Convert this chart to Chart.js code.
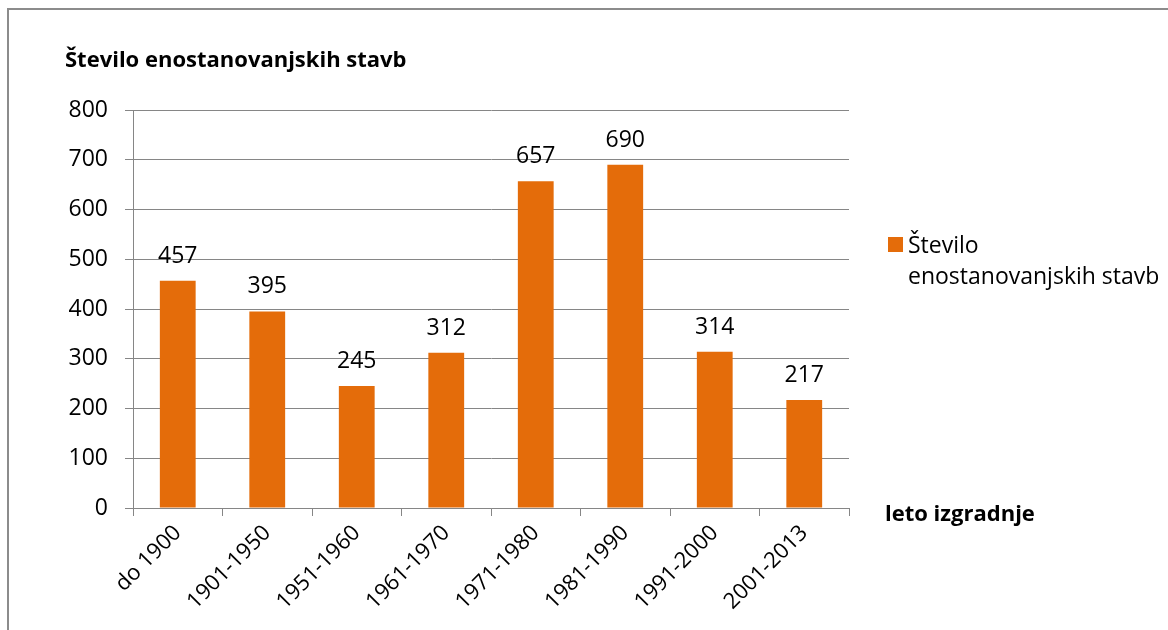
<!DOCTYPE html>
<html>
<head>
<meta charset="utf-8">
<script src="https://cdn.jsdelivr.net/npm/chart.js@4"></script>
<style>
  html, body { margin: 0; padding: 0; background: #fff; }
  #wrap { width: 1168px; height: 630px; }
</style>
</head>
<body>
<div id="wrap"><canvas id="stavbe" width="1168" height="630"></canvas></div>
<script>
// data
var obdobja = ["do 1900", "1901-1950", "1951-1960", "1961-1970", "1971-1980", "1981-1990", "1991-2000", "2001-2013"];
var stevilo = [457, 395, 245, 312, 657, 690, 314, 217];
var yTicks = [0, 100, 200, 300, 400, 500, 600, 700, 800];

var naslovY = "Število enostanovanjskih stavb";
var naslovX = "leto izgradnje";
var legenda = ["Število", "enostanovanjskih stavb"];

var oranzna = "#E46C0A";
var siva = "#868686";
var pisava = "'Open Sans', sans-serif";

// frame, titles, legend and value labels
var risanje = {
    id: 'risanje',
    beforeDraw: function(chart) {
        var ctx = chart.ctx;
        ctx.save();
        ctx.strokeStyle = "#8c8c8c";
        ctx.lineWidth = 2;
        ctx.beginPath();
        ctx.moveTo(8, 640);
        ctx.lineTo(8, 9);
        ctx.lineTo(1170, 9);
        ctx.stroke();
        ctx.restore();
    },
    afterDatasetsDraw: function(chart) {
        var ctx = chart.ctx;
        var area = chart.chartArea;
        ctx.save();
        ctx.fillStyle = "#000";
        ctx.textBaseline = "alphabetic";

        // value labels above bars
        ctx.font = "23px " + pisava;
        ctx.textAlign = "center";
        var meta = chart.getDatasetMeta(0);
        meta.data.forEach(function(bar, i) {
            ctx.fillText(String(stevilo[i]), bar.x, bar.y - 18);
        });

        // axis titles
        ctx.textAlign = "left";
        ctx.font = "bold 22px " + pisava;
        ctx.fillText(naslovY, 65, 67);
        ctx.fillText(naslovX, area.right + 36, area.bottom + 13);

        // legend
        ctx.fillStyle = oranzna;
        ctx.fillRect(888, 237, 15, 15);
        ctx.fillStyle = "#000";
        ctx.font = "23px " + pisava;
        ctx.fillText(legenda[0], 908, 253);
        ctx.fillText(legenda[1], 908, 284);
        ctx.restore();
    }
};

var ctx = document.getElementById('stavbe').getContext('2d');
var graf = new Chart(ctx, {
    type: 'bar',
    data: {
        labels: obdobja,
        datasets: [{
            label: legenda.join(" "),
            data: stevilo,
            backgroundColor: oranzna,
            borderWidth: 0,
            barPercentage: 0.4,
            categoryPercentage: 1.0
        }]
    },
    options: {
        responsive: false,
        animation: false,
        devicePixelRatio: 1,
        layout: { padding: { top: 110, right: 319, left: 0, bottom: 0 } },
        plugins: {
            legend: { display: false },
            tooltip: { enabled: false }
        },
        scales: {
            x: {
                offset: true,
                grid: { offset: true, drawOnChartArea: false, tickLength: 8, color: siva, lineWidth: 1 },
                border: { display: true, color: siva, width: 1 },
                ticks: {
                    autoSkip: false,
                    minRotation: 45,
                    maxRotation: 45,
                    padding: 4,
                    color: "#000",
                    font: { family: pisava, size: 22 }
                },
                afterFit: function(scale) { scale.height = 122; }
            },
            y: {
                min: 0,
                max: 800,
                afterBuildTicks: function(scale) {
                    scale.ticks = yTicks.map(function(v) { return { value: v }; });
                },
                grid: { color: siva, lineWidth: 1, tickLength: 8 },
                border: { display: true, color: siva, width: 1 },
                ticks: {
                    padding: 17,
                    color: "#000",
                    font: { family: pisava, size: 23 }
                },
                afterFit: function(scale) { scale.width = 133; }
            }
        }
    },
    plugins: [risanje]
});
</script>
</body>
</html>
